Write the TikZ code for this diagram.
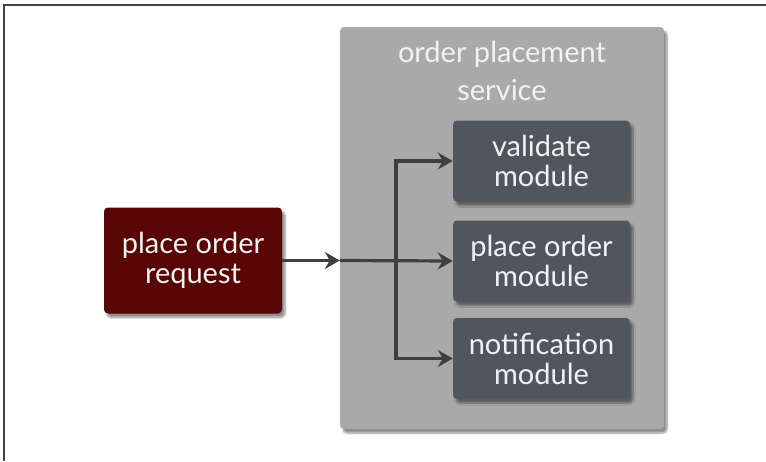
\documentclass[tikz,border=0pt]{standalone}
\usepackage{fontspec}
\setmainfont{Lato}
\usetikzlibrary{arrows.meta,shadows.blur}
\definecolor{cont}{HTML}{A9A9A9}
\definecolor{modc}{HTML}{51555E}
\definecolor{redc}{HTML}{5A0505}
\definecolor{arrc}{HTML}{3F3F3F}
\definecolor{txtc}{HTML}{F2F2F2}
\definecolor{framec}{HTML}{444444}
\tikzset{
  box/.style={rounded corners=4pt, text=txtc, align=center, inner sep=0pt,
    blur shadow={shadow xshift=3pt, shadow yshift=-4pt, shadow blur steps=6, shadow opacity=45}},
  modbox/.style={box, fill=modc, minimum width=177pt, minimum height=81pt, font=\fontsize{29}{30}\selectfont},
  reqbox/.style={box, fill=redc, minimum width=178pt, minimum height=106pt, font=\fontsize{29}{30}\selectfont},
  contbox/.style={box, fill=cont, minimum width=324pt, minimum height=402pt},
  titletext/.style={text=txtc, align=center, font=\fontsize{29}{38}\selectfont},
  arr/.style={draw=arrc, line width=3.2pt, -{Stealth[length=15pt,width=17pt,inset=5pt]}},
  frameline/.style={draw=framec, line width=1.5pt}
}
\begin{document}
\begin{tikzpicture}[x=1pt,y=-1pt]
\useasboundingbox (0,0) rectangle (766,461);
\coordinate (ftl) at (4,5);
\coordinate (ftr) at (766,5);
\coordinate (fbl) at (4,461);
\draw[frameline] (fbl) -- (ftl) -- (ftr);
\node[contbox] (g) at (502,228) {};
\node[titletext] (t) at (502,71) {order placement\\service};
\node[reqbox] (r) at (193,260.5) {place order\\request};
\node[modbox] (v) at (541.5,161) {validate\\module};
\node[modbox] (p) at (541.5,261) {place order\\module};
\node[modbox] (n) at (541.5,358.5) {notification\\module};
\coordinate (gin) at (r.east -| g.west);
\coordinate (j) at (396,261);
\draw[arr] (r.east) -- (gin);
\draw[arr] (gin) -- (p.west);
\draw[arr] (j) |- (v.west);
\draw[arr] (j) |- (n.west);
\end{tikzpicture}
\end{document}
